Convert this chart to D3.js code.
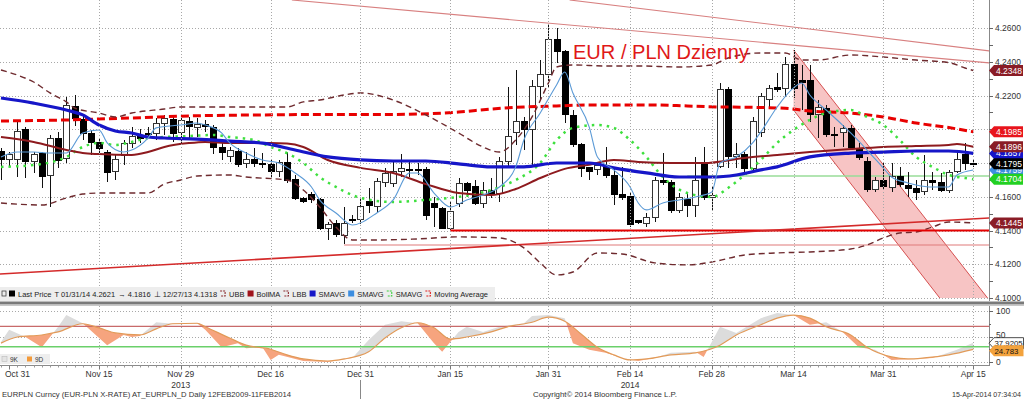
<!DOCTYPE html>
<html><head><meta charset="utf-8">
<script src="https://cdn.jsdelivr.net/npm/d3@7"></script>
<style>
html,body{margin:0;padding:0;background:#fff;overflow:hidden}
svg{display:block;font-family:"Liberation Sans",Arial,sans-serif}
</style></head><body>
<svg id="c" width="1024" height="401"></svg>
<script>
// ---------------- DATA ----------------
// trading days: weekdays from 30 Oct 2013 to 15 Apr 2014 (120 sessions)
const firstDay = new Date(2013, 9, 30), lastDay = new Date(2014, 3, 16);
const openP = [4.1867,4.1822,4.1822,4.2000,4.1808,4.1854,4.1723,4.1946,4.1828,4.2134,4.2055,4.1976,4.1921,4.1865,4.1749,4.1842,4.1917,4.1956,4.1976,4.1976,4.2035,4.2059,4.1980,4.2045,4.2010,4.2031,4.2012,4.1891,4.1838,4.1871,4.1798,4.1818,4.1798,4.1792,4.1749,4.1804,4.1700,4.1587,4.1611,4.1585,4.1411,4.1439,4.1368,4.1468,4.1463,4.1571,4.1541,4.1684,4.1680,4.1749,4.1763,4.1763,4.1759,4.1561,4.1532,4.1413,4.1561,4.1680,4.1660,4.1561,4.1640,4.1621,4.1808,4.1980,4.2045,4.2000,4.2256,4.2322,4.2529,4.2460,4.2079,4.1907,4.1773,4.1759,4.1778,4.1725,4.1611,4.1601,4.1457,4.1439,4.1478,4.1699,4.1684,4.1518,4.1585,4.1546,4.1794,4.1597,4.1779,4.2237,4.1838,4.1848,4.1769,4.1980,4.2174,4.2245,4.2243,4.2381,4.2286,4.2286,4.2085,4.2124,4.1970,4.1980,4.2006,4.1887,4.1810,4.1644,4.1699,4.1656,4.1719,4.1664,4.1646,4.1630,4.1699,4.1682,4.1636,4.1749,4.1852,4.1798];
const highP = [4.1887,4.1867,4.2045,4.2016,4.1867,4.1867,4.1966,4.1986,4.2193,4.2203,4.2085,4.1996,4.1946,4.1877,4.1848,4.1937,4.2016,4.2000,4.2016,4.2065,4.2085,4.2085,4.2075,4.2075,4.2065,4.2055,4.2025,4.1927,4.1897,4.1887,4.1867,4.1887,4.1858,4.1818,4.1818,4.1867,4.1729,4.1601,4.1630,4.1591,4.1453,4.1463,4.1541,4.1492,4.1585,4.1650,4.1709,4.1769,4.1808,4.1854,4.1818,4.1798,4.1778,4.1601,4.1541,4.1571,4.1709,4.1690,4.1699,4.1690,4.1709,4.1838,4.2253,4.2351,4.2075,4.2292,4.2411,4.2621,4.2598,4.2470,4.2114,4.1917,4.1778,4.1798,4.1897,4.1778,4.1778,4.1621,4.1463,4.1502,4.1719,4.1858,4.1699,4.1621,4.1630,4.1838,4.1897,4.1660,4.2272,4.2253,4.1917,4.1867,4.2075,4.2213,4.2262,4.2332,4.2430,4.2470,4.2381,4.2381,4.2174,4.2144,4.2016,4.2025,4.2025,4.1917,4.1838,4.1719,4.1808,4.1798,4.1778,4.1749,4.1699,4.1848,4.1749,4.1739,4.1759,4.1877,4.1917,4.1818];
const lowP = [4.1699,4.1778,4.1719,4.1709,4.1739,4.1650,4.1541,4.1769,4.1802,4.2019,4.1937,4.1848,4.1854,4.1690,4.1699,4.1788,4.1887,4.1917,4.1946,4.1937,4.1966,4.1927,4.1917,4.1937,4.1956,4.1986,4.1854,4.1818,4.1808,4.1778,4.1769,4.1778,4.1769,4.1719,4.1719,4.1680,4.1581,4.1561,4.1561,4.1403,4.1344,4.1364,4.1318,4.1447,4.1439,4.1502,4.1502,4.1660,4.1660,4.1719,4.1719,4.1729,4.1463,4.1423,4.1407,4.1403,4.1541,4.1601,4.1551,4.1532,4.1591,4.1571,4.1769,4.1907,4.1877,4.1778,4.2174,4.2243,4.2391,4.2035,4.1897,4.1719,4.1699,4.1729,4.1709,4.1551,4.1581,4.1423,4.1439,4.1423,4.1453,4.1670,4.1502,4.1502,4.1482,4.1482,4.1581,4.1522,4.1769,4.1769,4.1769,4.1739,4.1759,4.1956,4.2134,4.2223,4.2193,4.2183,4.2114,4.2045,4.1946,4.1956,4.1897,4.1897,4.1877,4.1818,4.1630,4.1630,4.1640,4.1630,4.1660,4.1601,4.1581,4.1611,4.1640,4.1630,4.1621,4.1739,4.1759,4.1778];
const closeP = [4.1822,4.1852,4.1986,4.1808,4.1852,4.1719,4.1946,4.1814,4.2138,4.2065,4.1976,4.1921,4.1887,4.1743,4.1822,4.1917,4.1956,4.1948,4.1970,4.2035,4.2065,4.1976,4.2049,4.2016,4.2031,4.2016,4.1891,4.1861,4.1873,4.1794,4.1822,4.1798,4.1794,4.1749,4.1804,4.1696,4.1587,4.1571,4.1581,4.1411,4.1433,4.1374,4.1439,4.1463,4.1541,4.1551,4.1690,4.1739,4.1749,4.1769,4.1759,4.1755,4.1486,4.1538,4.1413,4.1512,4.1680,4.1640,4.1561,4.1640,4.1621,4.1808,4.1956,4.2045,4.1996,4.2256,4.2322,4.2529,4.2460,4.2085,4.1907,4.1769,4.1749,4.1784,4.1725,4.1611,4.1597,4.1433,4.1447,4.1478,4.1699,4.1684,4.1518,4.1593,4.1546,4.1699,4.1597,4.1609,4.2237,4.1838,4.1848,4.1769,4.2045,4.2193,4.2243,4.2237,4.2381,4.2243,4.2280,4.2085,4.2130,4.1966,4.1966,4.2006,4.1893,4.1834,4.1644,4.1699,4.1660,4.1719,4.1670,4.1650,4.1624,4.1696,4.1684,4.1636,4.1743,4.1822,4.1798,4.1795];

// studies: [session index, value]
const bollUpper = [[0,4.2351],[2,4.2321],[4,4.2280],[6,4.2215],[8,4.2162],[9,4.2126],[12,4.2096],[14,4.2073],[16,4.2096],[20,4.2120],[22,4.2132],[28,4.2132],[35,4.2132],[37,4.2162],[39,4.2173],[42,4.2203],[44,4.2215],[48,4.2173],[52,4.2085],[56,4.1978],[59,4.1895],[61,4.1865],[63,4.1936],[65,4.2073],[67,4.2274],[68,4.2369],[70,4.2381],[74,4.2375],[78,4.2375],[83,4.2369],[87,4.2381],[89,4.2422],[93,4.2452],[96,4.2452],[98,4.2410],[100,4.2410],[104,4.2440],[108,4.2428],[112,4.2410],[116,4.2395],[118,4.2363],[119,4.2348]];
const bollMA = [[0,4.1954],[4,4.1925],[8,4.1877],[10,4.1859],[12,4.1853],[16,4.1848],[18,4.1865],[20,4.1895],[23,4.1918],[25,4.1925],[28,4.1918],[33,4.1918],[35,4.1915],[37,4.1895],[40,4.1818],[44,4.1771],[48,4.1741],[52,4.1675],[56,4.1622],[60,4.1610],[63,4.1646],[66,4.1711],[69,4.1765],[72,4.1790],[75,4.1818],[78,4.1806],[82,4.1800],[86,4.1800],[91,4.1830],[95,4.1848],[99,4.1865],[104,4.1883],[108,4.1895],[112,4.1901],[116,4.1907],[117,4.1913],[119,4.1896]];
const bollLower = [[0,4.1563],[5,4.1551],[8,4.1593],[10,4.1616],[12,4.1622],[18,4.1622],[20,4.1676],[22,4.1699],[24,4.1723],[28,4.1729],[30,4.1717],[35,4.1699],[37,4.1640],[39,4.1539],[41,4.1421],[43,4.1344],[46,4.1344],[51,4.1350],[56,4.1362],[61,4.1356],[64,4.1297],[66,4.1208],[68,4.1137],[70,4.1154],[73,4.1267],[76,4.1261],[80,4.1208],[84,4.1196],[87,4.1213],[91,4.1255],[95,4.1267],[99,4.1273],[104,4.1290],[106,4.1314],[108,4.1356],[110,4.1385],[112,4.1391],[114,4.1421],[116,4.1450],[119,4.1445]];
const smaBlue = [[0,4.2185],[4,4.2155],[8,4.2114],[10,4.2085],[12,4.2025],[14,4.1990],[16,4.1978],[18,4.1954],[20,4.1948],[24,4.1942],[28,4.1930],[32,4.1918],[36,4.1877],[40,4.1836],[44,4.1818],[48,4.1812],[52,4.1812],[56,4.1795],[60,4.1777],[64,4.1777],[68,4.1800],[72,4.1800],[75,4.1771],[79,4.1741],[83,4.1717],[87,4.1717],[90,4.1729],[93,4.1759],[95,4.1777],[99,4.1836],[104,4.1859],[108,4.1865],[112,4.1871],[116,4.1871],[119,4.1857]];
const smaFast = [[0,4.1836],[2,4.1865],[4,4.1865],[6,4.1859],[8,4.1859],[10,4.1978],[12,4.1996],[13,4.1919],[15,4.1865],[16,4.1877],[18,4.1948],[19,4.2008],[22,4.2025],[24,4.2037],[25,4.2025],[27,4.1978],[28,4.1919],[30,4.1859],[32,4.1818],[34,4.1800],[36,4.1741],[38,4.1658],[39,4.1581],[41,4.1504],[43,4.1433],[46,4.1504],[48,4.1581],[50,4.1741],[51,4.1741],[53,4.1622],[55,4.1539],[57,4.1581],[59,4.1610],[61,4.1658],[63,4.1777],[64,4.1936],[66,4.2096],[68,4.2262],[69,4.2339],[70,4.2215],[72,4.2013],[73,4.1836],[75,4.1759],[77,4.1658],[78,4.1563],[79,4.1522],[81,4.1563],[83,4.1581],[85,4.1599],[87,4.1628],[88,4.1800],[90,4.1836],[92,4.1919],[93,4.1984],[95,4.2132],[97,4.2245],[98,4.2274],[99,4.2203],[101,4.2114],[103,4.2025],[104,4.1978],[106,4.1877],[108,4.1770],[109,4.1717],[111,4.1682],[112,4.1670],[114,4.1658],[116,4.1658],[117,4.1729],[119,4.1759]];
const smaGreen = [[0,4.1777],[4,4.1788],[8,4.1836],[10,4.1895],[12,4.1919],[14,4.1907],[16,4.1925],[18,4.1948],[20,4.1954],[23,4.1960],[26,4.1966],[28,4.1954],[31,4.1936],[33,4.1895],[35,4.1859],[37,4.1800],[39,4.1717],[41,4.1658],[43,4.1610],[44,4.1593],[48,4.1569],[52,4.1581],[56,4.1599],[60,4.1640],[63,4.1699],[66,4.1800],[68,4.1936],[70,4.2008],[73,4.2025],[75,4.2008],[77,4.1936],[79,4.1836],[81,4.1717],[84,4.1622],[87,4.1599],[89,4.1652],[91,4.1729],[93,4.1818],[95,4.1919],[97,4.1996],[99,4.2055],[101,4.2096],[104,4.2114],[106,4.2073],[108,4.2025],[110,4.1936],[112,4.1836],[114,4.1777],[116,4.1729],[118,4.1711],[119,4.1704]];
const movAvg = [[0,4.2049],[8,4.2055],[16,4.2067],[24,4.2080],[32,4.2085],[43,4.2088],[48,4.2088],[56,4.2102],[60,4.2120],[64,4.2132],[68,4.2138],[72,4.2144],[80,4.2144],[84,4.2138],[88,4.2132],[92,4.2130],[96,4.2124],[99,4.2108],[104,4.2096],[108,4.2073],[112,4.2037],[116,4.2010],[119,4.1985]];

// hand-drawn annotations: [session index, price]
const riseLine = [[-0.12,4.1142],[121.05,4.1474]];
const fallLineLow = [[35.6,4.2766],[121.05,4.2393]];
const fallLineHigh = [[69.6,4.2766],[121.05,4.2464]];
const supportThick = [[55,4.1400],[121.05,4.1400]];
const supportThin = [[42,4.1314],[121.05,4.1314]];
const greenLevel = [[84,4.1723],[121.05,4.1723]];
const channel = [[97,4.2470],[120.75,4.1000],[114.9,4.1000],[97,4.2114]];

// stochastic
const kIdx = [0,1,3,5,7,8,10,13,15,16,17,19,21,24,25,27,29,30,32,33,34,37,40,43,45,47,49,51,53,54,56,57,59,61,64,65,67,69,70,72,74,76,78,80,82,85,86,88,90,93,95,97,99,101,103,105,107,109,112,114,117,119];
const kVal = [39,63,49,29,69,92,76,33,53,49,51,78,75,76,63,29,37,27,29,4,14,2,0,8,43,73,80,76,37,20,59,69,59,69,76,90,92,86,37,24,18,8,2,8,18,20,10,69,57,86,96,92,73,78,59,29,24,4,6,8,24,37.92];
const dIdx = [0,2,5,7,10,12,14,17,19,21,24,25,28,30,33,35,37,40,42,45,47,49,51,53,55,57,60,62,65,67,69,71,73,75,77,79,82,85,88,90,93,95,97,99,101,104,106,109,111,113,116,119];
const dVal = [37,49,53,59,75,67,57,53,65,75,76,69,47,33,25,14,6,2,6,20,47,67,77,67,45,49,59,69,78,88,80,55,29,14,4,6,14,18,33,53,73,86,92,86,69,53,29,10,6,8,14,24.78];

// axis / labels
const tickDates = ["2013-10-31","2013-11-15","2013-11-29","2013-12-16","2013-12-31","2014-01-15","2014-01-31","2014-02-14","2014-02-28","2014-03-14","2014-03-31","2014-04-15"];
const tickLabels = ["Oct 31","Nov 15","Nov 29","Dec 16","Dec 31","Jan 15","Jan 31","Feb 14","Feb 28","Mar 14","Mar 31","Apr 15"];
const yearDates = ["2013-11-29","2014-02-14"];
const yearLabels = ["2013","2014"];
const priceLabels = ["4.1000","4.1200","4.1400","4.1600","4.2200","4.2400","4.2600"];
const tagVals = [4.1857,4.1759,4.2348,4.1985,4.1896,4.1795,4.1704,4.1445];
const tagText = ["4.1857","4.1759","4.2348","4.1985","4.1896","4.1795","4.1704","4.1445"];
const tagFill = ["#1414c8","#3d8ee0","#8a1c26","#e8141c","#8a1c26","#000000","#22d022","#8a1c26"];
const stochTagVals = [37.9205,24.783];
const stochTagText = ["37.9205","24.783"];
const legendLabels = ["Last Price","T 01/31/14 4.2621","→ 4.1816","⊥ 12/27/13 4.1318","UBB","BollMA","LBB","SMAVG","SMAVG","SMAVG","Moving Average"];
const legendIcons = ["sq","","","","icon","sq","icon","sq","sq","icon","icon"];
const legendColors = ["#000","","","","#8a2a2e","#a0141c","#8a2a2e","#1616c8","#3d8ee0","#3ed03e","#e02020"];

// ---------------- DRAW ----------------
const svg = d3.select("#c");
const parse = d3.timeParse("%Y-%m-%d");
const days = d3.timeDays(firstDay, lastDay).filter(d => d.getDay() % 6 !== 0);
const idxOf = s => { const t = parse(s).getTime(); return days.findIndex(d => d.getTime() === t); };

const x = d3.scaleLinear().domain([-0.12, 121.05]).range([0, 990]);
const y = d3.scaleLinear().domain([4.10, 4.26]).range([298, 28]);
const ys = d3.scaleLinear().domain([0, 100]).range([362, 311]);
const R = 989;

const defs = svg.append("defs");
defs.append("clipPath").attr("id","clipMain").append("rect").attr("x",0).attr("y",0).attr("width",R).attr("height",301);
defs.append("clipPath").attr("id","clipLow").append("rect").attr("x",0).attr("y",306).attr("width",R).attr("height",59);

svg.append("rect").attr("width",1024).attr("height",401).attr("fill","#fff");

const main = svg.append("g").attr("clip-path","url(#clipMain)");
const gridC = "#a8a8a8";
y.ticks(8).forEach(t => {
  main.append("line").attr("x1",0).attr("x2",R).attr("y1",Math.round(y(t))+0.5).attr("y2",Math.round(y(t))+0.5)
    .attr("stroke",gridC).attr("stroke-dasharray","1,2");
});
const tickIdx = tickDates.map(idxOf);
tickIdx.forEach((ti, k) => {
  if (k === 0) return;
  const xx = Math.round(x(ti)) + 0.5;
  svg.append("line").attr("x1",xx).attr("x2",xx).attr("y1",0).attr("y2",300).attr("stroke",gridC).attr("stroke-dasharray","1,2");
  svg.append("line").attr("x1",xx).attr("x2",xx).attr("y1",306).attr("y2",365).attr("stroke",gridC).attr("stroke-dasharray","1,2");
});

const lineP = d3.line().x(d => x(d[0])).y(d => y(d[1]));
main.append("path").attr("d", lineP(channel) + "Z").attr("fill","#f7c4c4").attr("stroke","none");
main.append("path").attr("d", lineP([channel[0],channel[1]])).attr("stroke","#d65050").attr("stroke-width",1).attr("fill","none");
main.append("path").attr("d", lineP([channel[3],channel[2]])).attr("stroke","#d65050").attr("stroke-width",1).attr("fill","none");

main.append("path").attr("d", lineP(supportThin)).attr("stroke","#e07a7a").attr("stroke-width",1.2).attr("fill","none");
main.append("path").attr("d", lineP(greenLevel)).attr("stroke","#98dc98").attr("stroke-width",1.3).attr("fill","none");

// candles
const cg = main.append("g").attr("shape-rendering","crispEdges");
openP.forEach((o, i) => {
  const c = closeP[i], cx = Math.round(x(i));
  cg.append("line").attr("x1",cx+0.5).attr("x2",cx+0.5).attr("y1",y(highP[i])).attr("y2",y(lowP[i])).attr("stroke","#111");
  const top = y(Math.max(o,c)), bot = y(Math.min(o,c));
  const up = c >= o;
  cg.append("rect").attr("x",cx-2.5).attr("y",top).attr("width",6).attr("height",Math.max(1,bot-top))
    .attr("fill", up ? "#fff" : "#000").attr("stroke", up ? "#333" : "#000").attr("stroke-width",1);
});

// studies
const curve = d3.curveMonotoneX;
const lineS = d3.line().x(d => x(d[0])).y(d => y(d[1])).curve(curve);
main.append("path").attr("d", lineS(movAvg)).attr("fill","none").attr("stroke","#e80000").attr("stroke-width",3).attr("stroke-dasharray","8,4");
main.append("path").attr("d", lineS(bollUpper)).attr("fill","none").attr("stroke","#6e2a2e").attr("stroke-width",1.4).attr("stroke-dasharray","6,4");
main.append("path").attr("d", lineS(bollLower)).attr("fill","none").attr("stroke","#6e2a2e").attr("stroke-width",1.4).attr("stroke-dasharray","6,4");
main.append("path").attr("d", lineS(smaGreen)).attr("fill","none").attr("stroke","#3ee03e").attr("stroke-width",2.5).attr("stroke-dasharray","2.5,5");
main.append("path").attr("d", lineS(bollMA)).attr("fill","none").attr("stroke","#8e1a1e").attr("stroke-width",2);
main.append("path").attr("d", lineS(smaBlue)).attr("fill","none").attr("stroke","#1616c8").attr("stroke-width",3.2);
main.append("path").attr("d", lineS(smaFast)).attr("fill","none").attr("stroke","#5b9ad6").attr("stroke-width",1.1);

main.append("path").attr("d", lineP(supportThick)).attr("stroke","#e40000").attr("stroke-width",2).attr("fill","none");
main.append("path").attr("d", lineP(riseLine)).attr("stroke","#d42a2a").attr("stroke-width",1.6).attr("fill","none");
main.append("path").attr("d", lineP(fallLineLow)).attr("stroke","#d88080").attr("stroke-width",1.1).attr("fill","none");
main.append("path").attr("d", lineP(fallLineHigh)).attr("stroke","#d88080").attr("stroke-width",1.1).attr("fill","none");

// title
svg.append("text").attr("x",573).attr("y",59).attr("font-size",21).attr("fill","#e01818")
  .attr("textLength",176).attr("lengthAdjust","spacingAndGlyphs").text("EUR / PLN Dzienny");

// legend
svg.append("rect").attr("x",0).attr("y",287).attr("width",495).attr("height",14).attr("fill","#ededed");
const lg = svg.append("g").attr("font-size",7.5).attr("fill","#222");
lg.append("rect").attr("x",2).attr("y",291).attr("width",4).attr("height",5).attr("fill","none").attr("stroke","#444").attr("stroke-width",0.8);
const ltexts = legendLabels.map(s => lg.append("text").attr("y",297).text(s));
const lw = ltexts.map(t => t.node().getComputedTextLength());
const iconW = legendIcons.map(s => s ? 9 : 0);
const startX = 9, endX = 488;
const used = d3.sum(lw) + d3.sum(iconW);
const gap = (endX - startX - used) / (legendLabels.length - 1);
let cur = startX;
legendLabels.forEach((s, k) => {
  if (legendIcons[k] === "sq") {
    lg.append("rect").attr("x",cur).attr("y",290.5).attr("width",6).attr("height",6).attr("fill",legendColors[k]);
  } else if (legendIcons[k] === "icon") {
    lg.append("path").attr("d",`M${cur},291 h5 v5 h-5`).attr("fill","none").attr("stroke",legendColors[k]).attr("stroke-width",1.1).attr("stroke-dasharray","2,1");
  }
  cur += iconW[k];
  ltexts[k].attr("x", cur);
  cur += lw[k] + gap;
});

// separator
svg.append("rect").attr("x",0).attr("y",301.5).attr("width",1024).attr("height",3).attr("fill","#7a7a7a");
svg.append("line").attr("x1",0).attr("x2",1024).attr("y1",305.5).attr("y2",305.5).attr("stroke","#c8c8c8");

// right axis main
const ax = svg.append("g").attr("font-size",8.5).attr("fill","#333");
ax.append("line").attr("x1",R+0.5).attr("x2",R+0.5).attr("y1",0).attr("y2",301).attr("stroke","#888");
y.ticks(16).forEach(t => {
  const yy = Math.round(y(t)) + 0.5;
  ax.append("line").attr("x1",R).attr("x2",R+4).attr("y1",yy).attr("y2",yy).attr("stroke","#666");
});
priceLabels.forEach(s => {
  ax.append("text").attr("x",995).attr("y",y(+s)+3).text(s);
});

// tags
const tagPath = (yy, w) => `M${R},${yy} L${R+5},${yy-5.5} H${R+w} V${yy+5.5} H${R+5} Z`;
tagVals.forEach((v, k) => {
  const yy = y(v);
  svg.append("path").attr("d", tagPath(yy, 34)).attr("fill", tagFill[k]);
  svg.append("text").attr("x",996).attr("y",yy+3).attr("font-size",8.5).attr("fill","#fff").text(tagText[k]);
});

// ---------------- lower panel ----------------
const low = svg.append("g").attr("clip-path","url(#clipLow)");
[0,50,100].forEach(v => low.append("line").attr("x1",0).attr("x2",R).attr("y1",Math.round(ys(v))+0.5).attr("y2",Math.round(ys(v))+0.5)
  .attr("stroke",gridC).attr("stroke-dasharray","1,2"));
const kPts = kIdx.map((d,i) => [d, kVal[i]]);
const dPts = dIdx.map((d,i) => [d, dVal[i]]);
const aboveD = d3.area().x(d => x(d[0])).y0(ys(100)-8).y1(d => ys(d[1])).curve(curve);
const belowD = d3.area().x(d => x(d[0])).y0(ys(0)+8).y1(d => ys(d[1])).curve(curve);
const aboveK = d3.area().x(d => x(d[0])).y0(ys(100)-8).y1(d => ys(d[1]));
const belowK = d3.area().x(d => x(d[0])).y0(ys(0)+8).y1(d => ys(d[1]));
defs.append("clipPath").attr("id","cAboveD").append("path").attr("d", aboveD(dPts));
defs.append("clipPath").attr("id","cAboveK").append("path").attr("d", aboveK(kPts));
low.append("g").attr("clip-path","url(#cAboveD)").append("path").attr("d", belowK(kPts)).attr("fill","#dcdcdc");
low.append("g").attr("clip-path","url(#cAboveK)").append("path").attr("d", belowD(dPts)).attr("fill","#f6a47e");
low.append("line").attr("x1",0).attr("x2",R).attr("y1",ys(70)).attr("y2",ys(70)).attr("stroke","#c86a6a").attr("stroke-width",1.2);
low.append("line").attr("x1",0).attr("x2",R).attr("y1",ys(30)).attr("y2",ys(30)).attr("stroke","#6ad06a").attr("stroke-width",1.6);
low.append("path").attr("d", d3.line().x(d => x(d[0])).y(d => ys(d[1])).curve(curve)(dPts)).attr("fill","none").attr("stroke","#e29a58").attr("stroke-width",1.2);

// mini legend
svg.append("rect").attr("x",0).attr("y",354).attr("width",50).attr("height",10).attr("fill","#eeeeee");
svg.append("rect").attr("x",2).attr("y",356.5).attr("width",5).attr("height",5).attr("fill","#e4e4e4").attr("stroke","#bbb").attr("stroke-width",0.6);
svg.append("text").attr("x",10).attr("y",362).attr("font-size",6.5).attr("fill","#333").text("9K");
svg.append("rect").attr("x",27).attr("y",356.5).attr("width",5).attr("height",5).attr("fill","#f39a3a");
svg.append("text").attr("x",35).attr("y",362).attr("font-size",6.5).attr("fill","#333").text("9D");

// lower right axis
ax.append("line").attr("x1",R+0.5).attr("x2",R+0.5).attr("y1",306).attr("y2",366).attr("stroke","#888");
[0,25,50,75,100].forEach(v => ax.append("line").attr("x1",R).attr("x2",R+ (v%50===0?4:2)).attr("y1",Math.round(ys(v))+0.5).attr("y2",Math.round(ys(v))+0.5).attr("stroke","#666"));
[[100,"100"],[50,"50"],[0,"0"]].forEach(d => ax.append("text").attr("x",996).attr("y",ys(d[0])+ (d[0]===50 ? 1 : 3)).text(d[1]));
stochTagVals.forEach((v, k) => {
  const yy = ys(v) + (k === 0 ? 0.5 : 1.5);
  svg.append("path").attr("d", tagPath(yy, 34.5)).attr("fill", k === 0 ? "#fff" : "#f3a23c").attr("stroke", k === 0 ? "#222" : "none").attr("stroke-width",0.8);
  svg.append("text").attr("x",994.5).attr("y",yy+2.8).attr("font-size",7.8).attr("fill","#111").text(stochTagText[k]);
});

// date axis
const da = svg.append("g").attr("font-size",8.5).attr("fill","#333");
da.append("line").attr("x1",0).attr("x2",R).attr("y1",365.5).attr("y2",365.5).attr("stroke","#8a8a8a");
days.forEach((d, i) => {
  const xx = Math.round(x(i)) + 0.5;
  da.append("line").attr("x1",xx).attr("x2",xx).attr("y1",365.5).attr("y2",367.5).attr("stroke","#999");
});
tickIdx.forEach((ti, k) => {
  const xx = Math.round(x(ti)) + 0.5;
  da.append("line").attr("x1",xx).attr("x2",xx).attr("y1",365.5).attr("y2",369.5).attr("stroke","#777");
  const t = da.append("text").attr("y",377).text(tickLabels[k]);
  if (k === 0) t.attr("x",5); else t.attr("x",x(ti)).attr("text-anchor","middle");
});
yearDates.forEach((s, k) => da.append("text").attr("x",x(idxOf(s))).attr("y",388).attr("text-anchor","middle").text(yearLabels[k]));
const sepX = Math.round(x(idxOf("2013-12-31"))) + 0.5;
da.append("line").attr("x1",sepX).attr("x2",sepX).attr("y1",380).attr("y2",399).attr("stroke","#888");

// footer
const ft = svg.append("g").attr("fill","#333");
ft.append("text").attr("x",2).attr("y",397).attr("font-size",8).attr("textLength",289).attr("lengthAdjust","spacingAndGlyphs").text("EURPLN Curncy (EUR-PLN X-RATE) AT_EURPLN_D  Daily 12FEB2009-11FEB2014");
ft.append("text").attr("x",533).attr("y",397).attr("font-size",8).attr("textLength",144).attr("lengthAdjust","spacingAndGlyphs").text("Copyright© 2014 Bloomberg Finance L.P.");
ft.append("text").attr("x",1021).attr("y",397).attr("font-size",7.1).attr("text-anchor","end").text("15-Apr-2014 07:34:04");
</script>
</body></html>
